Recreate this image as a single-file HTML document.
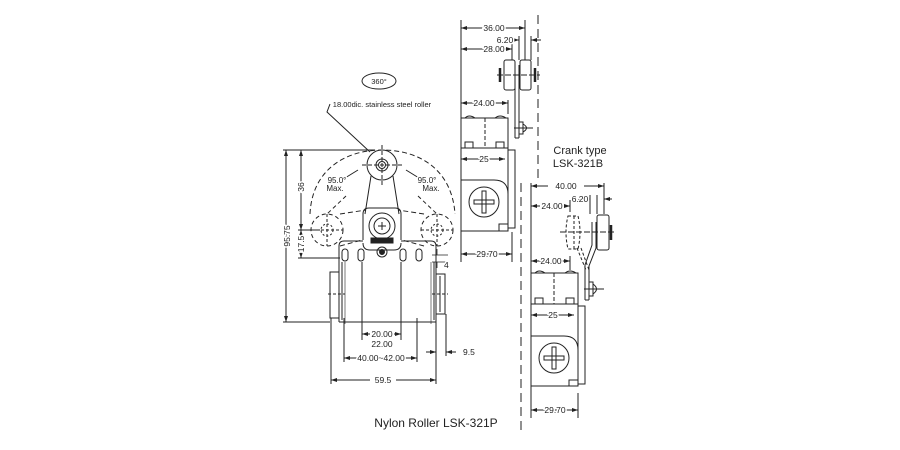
<!DOCTYPE html>
<html><head><meta charset="utf-8"><style>
html,body{margin:0;padding:0;background:#fff;}
svg{display:block;}
text{font-family:"Liberation Sans",Arial,sans-serif;fill:#222;paint-order:stroke;stroke:#fff;stroke-width:3px;}
</style></head><body>
<svg width="900" height="450" viewBox="0 0 900 450" xmlns="http://www.w3.org/2000/svg">
<defs>
<marker id="a" markerWidth="6" markerHeight="4" refX="6" refY="2" orient="auto-start-reverse" markerUnits="userSpaceOnUse"><path d="M0,0 L6,2 L0,4z" fill="#222"/></marker>
</defs>
<g stroke="#222" stroke-width="1" fill="none">
<ellipse cx="379" cy="81" rx="17" ry="8"/>
<path d="M330,104 L327,112 L370,152"/>
<path d="M310,214 C312,170 345,150 382,150 C420,150 452,170 455,214" stroke-dasharray="5,3"/>
<path d="M346,196 L327,214 M418,196 L437,214" stroke-dasharray="4,3"/>
<path d="M358,170 L345,178 M406,170 L419,178"/>
<circle cx="382" cy="165" r="15"/>
<circle cx="382" cy="165" r="6"/>
<circle cx="382" cy="165" r="3.5"/>
<path d="M382,145 V186 M362,165 H402" stroke-dasharray="4,2"/>
<path d="M371,176 L365,214 M393,176 L399,214"/>
<circle cx="327" cy="230" r="16" stroke-dasharray="4,3"/>
<circle cx="437" cy="230" r="16" stroke-dasharray="4,3"/>
<circle cx="327" cy="230" r="6" stroke-dasharray="2,2"/>
<circle cx="437" cy="230" r="6" stroke-dasharray="2,2"/>
<path d="M311,230 H343 M327,214 V246 M421,230 H453 M437,214 V246" stroke-dasharray="3,2"/>
<path d="M340,214 L366,210 M340,246 L362,240 M424,214 L398,210 M424,246 L402,240" stroke-dasharray="5,3"/>
<path d="M363,240 V214 Q363,208 369,208 H395 Q401,208 401,214 V240"/>
<circle cx="382" cy="226" r="13"/>
<circle cx="382" cy="226" r="8"/>
<path d="M378,226 H386 M382,222 V230"/>
<rect x="371" y="238" width="22" height="5" fill="#222"/>
<path d="M339,322 V246 Q339,241 344,241 H363 M401,241 H431 Q436,241 436,246 V322"/>
<path d="M363,243 Q363,250 370,250 H394 Q401,250 401,243"/>
<circle cx="382" cy="252" r="5"/>
<circle cx="382" cy="252" r="2.5" fill="#222"/>
<rect x="342" y="249" width="6" height="12" rx="3"/>
<rect x="358" y="249" width="6" height="12" rx="3"/>
<rect x="400" y="249" width="6" height="12" rx="3"/>
<rect x="416" y="249" width="6" height="12" rx="3"/>
<path d="M342,262 V320 M434,262 V320 M339,322 H436"/>
<path d="M345,262 V324 M431,262 V324" stroke-width="0.6"/>
<rect x="330" y="272" width="9" height="46"/>
<rect x="436" y="274" width="9" height="40"/>
<path d="M440,276 V312"/>
<path d="M328,294 H345 M432,294 H448" stroke-dasharray="3,2"/>
<path d="M283,150 H375 M283,322 H330 M298,230 H320 M298,258 H340"/>
<path d="M286,150 V322" marker-start="url(#a)" marker-end="url(#a)"/>
<path d="M301,150 V230" marker-start="url(#a)" marker-end="url(#a)"/>
<path d="M301,236 V230" marker-end="url(#a)"/>
<path d="M301,252 V258" marker-end="url(#a)"/>
<path d="M432,255 H448 M432,262 H448 M437,249 V255 M437,268 V262" stroke-width="0.8"/>
<path d="M362,262 V340 M401,262 V340 M344,318 V362 M417,318 V362 M331,318 V384 M436,318 V384 M446,314 V356"/>
<path d="M370,334 H362" marker-end="url(#a)"/><path d="M394,334 H401" marker-end="url(#a)"/>
<path d="M360,358 H344" marker-end="url(#a)"/><path d="M403,358 H417" marker-end="url(#a)"/>
<path d="M426,352 H436" marker-end="url(#a)"/><path d="M456,352 H446" marker-end="url(#a)"/>
<path d="M370,380 H331" marker-end="url(#a)"/><path d="M396,380 H436" marker-end="url(#a)"/>

<path d="M538,15 V178" stroke-dasharray="9,5"/>
<path d="M461,20 V262 M525,20 V60 M512,42 V60 M519,36 V60 M531,36 V60 M508,100 V114 M512,232 V262"/>
<path d="M461,28 H525" marker-start="url(#a)" marker-end="url(#a)"/>
<path d="M461,49 H484" marker-start="url(#a)"/><path d="M504,49 H512" marker-end="url(#a)"/>
<path d="M512,40 H519" marker-end="url(#a)"/><path d="M541,40 H531" marker-end="url(#a)"/>
<path d="M461,103 H508" marker-start="url(#a)" marker-end="url(#a)"/>
<path d="M461,159 H505" marker-start="url(#a)" marker-end="url(#a)"/>
<path d="M461,254 H512" marker-start="url(#a)" marker-end="url(#a)"/>
<rect x="504" y="60" width="11" height="30" rx="2"/>
<rect x="520" y="60" width="11" height="30" rx="2"/>
<path d="M500,68 V82 M535,68 V82" stroke-width="2.5"/>
<path d="M497,75 H540" stroke-dasharray="6,2"/>
<path d="M515,65 V138 M519,65 V138 M515,138 H519"/>
<path d="M519,122 H523 V134 H519 M523,124 Q530,128 523,132 M514,128 H533"/>
<rect x="461" y="118" width="47" height="113"/>
<path d="M461,148 H508 M465,118 Q469,114 475,118 M495,118 Q500,114 506,118" />
<path d="M465,148 V142 H473 V148 M496,148 V142 H504 V148"/>
<path d="M485,118 V148" stroke-dasharray="4,2"/>
<rect x="508" y="150" width="7" height="78"/>
<path d="M461,180 H494 Q508,180 508,194 V224 H499 V231"/>
<circle cx="484" cy="202" r="15"/>
<path d="M474,200 H494 V204 H474z M482,191 H486 V213 H482z"/>

<path d="M521,183 V435" stroke-dasharray="9,5"/>
<path d="M531,183 V418 M604,183 V214 M590,195 V214 M597,195 V214 M570,200 V212 M570,256 V270 M578,393 V418"/>
<path d="M531,186 H548" marker-start="url(#a)"/><path d="M584,186 H604" marker-end="url(#a)"/>
<path d="M578,199 H590" marker-end="url(#a)"/><path d="M612,199 H604" marker-end="url(#a)"/>
<path d="M531,206 H540" marker-start="url(#a)"/><path d="M564,206 H570" marker-end="url(#a)"/>
<path d="M531,261 H570" marker-start="url(#a)" marker-end="url(#a)"/>
<path d="M531,315 H574" marker-start="url(#a)" marker-end="url(#a)"/>
<path d="M531,410 H578" marker-start="url(#a)" marker-end="url(#a)"/>
<path d="M568,216 H578 Q582,232 578,249 H568 Q564,232 568,216z" stroke-dasharray="3,2"/>
<path d="M574,216 V249" stroke-dasharray="3,2"/>
<rect x="597" y="215" width="12" height="35" rx="2"/>
<path d="M611,225 V240" stroke-width="2.5"/>
<path d="M560,232 H616" stroke-dasharray="6,2"/>
<path d="M577,248 L586,270 M581,248 L589,270" stroke-dasharray="3,2"/>
<path d="M592,222 V245 L585,265 V300 M596,222 V248 L589,266 V300 M585,300 H589"/>
<path d="M589,282 H593 V296 H589 M593,284 Q600,289 593,294 M584,289 H604"/>
<rect x="531" y="273" width="47" height="113"/>
<path d="M531,304 H578 M535,273 Q539,269 545,273 M565,273 Q570,269 576,273"/>
<path d="M535,304 V298 H543 V304 M566,304 V298 H574 V304"/>
<path d="M554,273 V304" stroke-dasharray="4,2"/>
<rect x="578" y="306" width="7" height="78"/>
<path d="M531,336 H564 Q578,336 578,350 V380 H569 V386"/>
<circle cx="554" cy="358" r="15"/>
<path d="M544,356 H564 V360 H544z M552,347 H556 V369 H552z"/>
</g>
<g font-size="8.5" text-anchor="middle">
<text x="379" y="84" font-size="7.5">360°</text>
<text x="382" y="107" font-size="7.5">18.00dic. stainless steel roller</text>
<text x="337" y="183" font-size="8">95.0°</text><text x="335" y="191" font-size="8">Max.</text>
<text x="427" y="183" font-size="8">95.0°</text><text x="431" y="191" font-size="8">Max.</text>
<text transform="translate(290,236) rotate(-90)">95.75</text>
<text transform="translate(304,187) rotate(-90)">36</text>
<text transform="translate(304,244) rotate(-90)">17.5</text>
<text x="444" y="268" text-anchor="start">4</text>
<text x="382" y="337">20.00</text>
<text x="382" y="347">22.00</text>
<text x="381" y="361">40.00~42.00</text>
<text x="463" y="355" text-anchor="start">9.5</text>
<text x="383" y="383">59.5</text>
<text x="494" y="31">36.00</text>
<text x="494" y="52">28.00</text>
<text x="505" y="43">6.20</text>
<text x="484" y="106">24.00</text>
<text x="484" y="162">25</text>
<text x="487" y="257">29.70</text>
<text x="566" y="189">40.00</text>
<text x="580" y="202">6.20</text>
<text x="552" y="209">24.00</text>
<text x="551" y="264">24.00</text>
<text x="553" y="318">25</text>
<text x="555" y="413">29.70</text>
<text x="580" y="154" font-size="11">Crank type</text>
<text x="578" y="167" font-size="11">LSK-321B</text>
<text x="436" y="427" font-size="12">Nylon Roller LSK-321P</text>
</g>
</svg>
</body></html>
